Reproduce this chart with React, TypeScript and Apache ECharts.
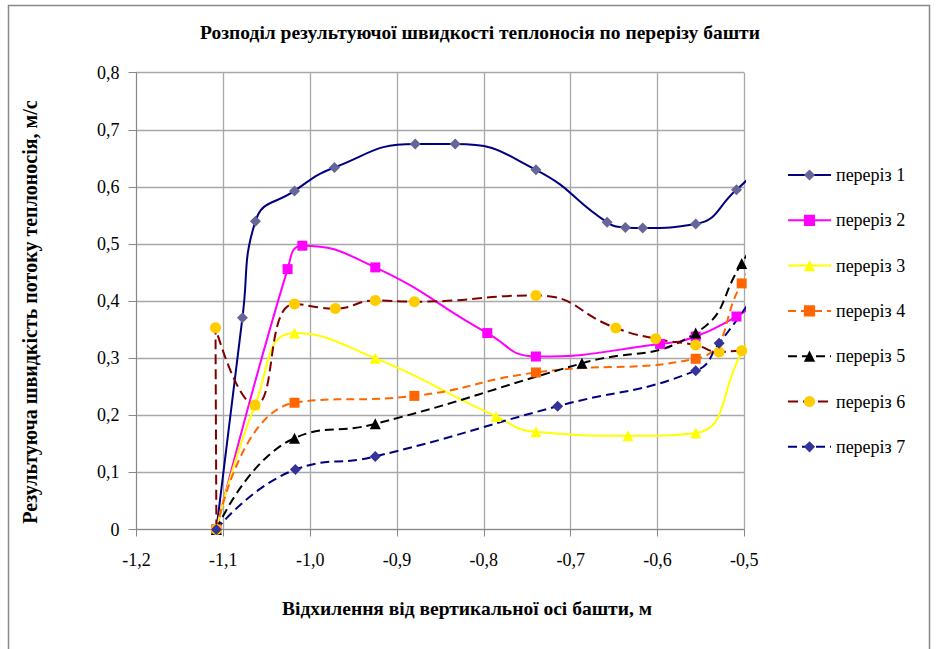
import React, { useEffect, useRef } from "react";
import * as echarts from "echarts";

const seriesNames = ["переріз 1", "переріз 2", "переріз 3", "переріз 4", "переріз 5", "переріз 6", "переріз 7"];

// [x, y, showMarker(1/0)]
const s1: number[][] = [[-1.108, 0, 1], [-1.078, 0.371, 1], [-1.063, 0.540, 1], [-1.018, 0.593, 1], [-0.972, 0.634, 1], [-0.879, 0.675, 1], [-0.833, 0.675, 1], [-0.740, 0.630, 1], [-0.658, 0.538, 1], [-0.637, 0.529, 1], [-0.617, 0.528, 1], [-0.556, 0.535, 1], [-0.509, 0.595, 1], [-0.493, 0.618, 0]];
const s2: number[][] = [[-1.108, 0, 1], [-1.026, 0.456, 1], [-1.009, 0.497, 1], [-0.925, 0.459, 1], [-0.796, 0.344, 1], [-0.740, 0.303, 1], [-0.597, 0.325, 1], [-0.556, 0.338, 1], [-0.509, 0.373, 1], [-0.493, 0.390, 0]];
const s3: number[][] = [[-1.108, 0, 1], [-1.0635, 0.218, 1], [-1.018, 0.344, 1], [-0.925, 0.300, 1], [-0.786, 0.198, 1], [-0.740, 0.171, 1], [-0.634, 0.164, 1], [-0.556, 0.169, 1], [-0.503, 0.310, 0], [-0.493, 0.338, 0]];
const s4: number[][] = [[-1.108, 0, 1], [-1.018, 0.222, 1], [-0.880, 0.234, 1], [-0.740, 0.275, 1], [-0.556, 0.299, 1], [-0.503, 0.431, 1], [-0.493, 0.464, 0]];
const s5: number[][] = [[-1.108, 0, 1], [-1.018, 0.160, 1], [-0.925, 0.185, 1], [-0.687, 0.291, 1], [-0.556, 0.344, 1], [-0.503, 0.466, 1], [-0.493, 0.493, 0]];
const s6: number[][] = [[-1.108, 0, 1], [-1.109, 0.3535, 1], [-1.0635, 0.218, 1], [-1.018, 0.395, 1], [-0.971, 0.387, 1], [-0.925, 0.401, 1], [-0.880, 0.399, 1], [-0.740, 0.410, 1], [-0.648, 0.353, 1], [-0.602, 0.334, 1], [-0.556, 0.323, 1], [-0.529, 0.311, 1], [-0.503, 0.313, 1], [-0.493, 0.310, 0]];
const s7: number[][] = [[-1.108, 0, 1], [-1.017, 0.105, 1], [-0.925, 0.128, 1], [-0.715, 0.216, 1], [-0.556, 0.278, 1], [-0.529, 0.326, 1], [-0.493, 0.400, 0]];

const allData = [s1, s2, s3, s4, s5, s6, s7];

const titleText = "Розподіл результуючої швидкості теплоносія по перерізу башти";
const xTitle = "Відхилення від вертикальної осі башти, м";
const yTitle = "Результуюча швидкість потоку теплоносія, м/с";

const FONT = "Liberation Serif";

const styles = [
  { line: "#000080", marker: "#666699", symbol: "diamond", size: 11, type: "solid" },
  { line: "#FF00FF", marker: "#FF00FF", symbol: "rect", size: 10, type: "solid" },
  { line: "#FFFF00", marker: "#FFFF00", symbol: "triangle", size: 11, type: "solid" },
  { line: "#FF6600", marker: "#FF6600", symbol: "rect", size: 10, type: [8, 5] },
  { line: "#000000", marker: "#000000", symbol: "triangle", size: 11, type: [9, 5] },
  { line: "#800000", marker: "#FFCC00", symbol: "circle", size: 11, type: [10, 5] },
  { line: "#000080", marker: "#333399", symbol: "diamond", size: 11, type: [9, 5] },
];

function fmt(v: number) {
  if (Math.abs(v) < 1e-9) return "0";
  return v.toFixed(1).replace(".", ",");
}

export default function App() {
  const ref = useRef<HTMLDivElement>(null);
  useEffect(() => {
    const chart = echarts.init(ref.current!, undefined, { renderer: "svg" });
    const series = allData.map((d, i) => {
      const st = styles[i];
      return {
        name: seriesNames[i],
        type: "line",
        smooth: 0.5,
        clip: false,
        symbol: st.symbol,
        symbolSize: st.size,
        showAllSymbol: true,
        lineStyle: { color: st.line, width: 2, type: st.type },
        itemStyle: { color: st.marker, borderWidth: 0 },
        data: d.map((p) => (p[2] ? { value: [p[0], p[1]] } : { value: [p[0], p[1]], symbol: "none" })),
      };
    });
    chart.setOption({
      animation: false,
      backgroundColor: "#ffffff",
      textStyle: { fontFamily: FONT },
      grid: { left: 136.5, right: 191.7, top: 72.7, bottom: 119.5, containLabel: false },
      xAxis: {
        type: "value",
        min: -1.2,
        max: -0.5,
        interval: 0.1,
        axisLine: { show: true, onZero: false, lineStyle: { color: "#888888", width: 1 } },
        axisTick: { show: true, inside: false, length: 7, lineStyle: { color: "#888888" } },
        axisLabel: { formatter: fmt, color: "#000", fontSize: 18, fontFamily: FONT, margin: 21 },
        splitLine: { show: true, lineStyle: { color: "#a8a8a8", width: 1.3 } },
      },
      yAxis: {
        type: "value",
        min: 0,
        max: 0.8,
        interval: 0.1,
        axisLine: { show: true, lineStyle: { color: "#888888", width: 1 } },
        axisTick: { show: true, inside: false, length: 8, lineStyle: { color: "#888888" } },
        axisLabel: { formatter: fmt, color: "#000", fontSize: 18, fontFamily: FONT, margin: 17 },
        splitLine: { show: true, lineStyle: { color: "#a8a8a8", width: 1.3 } },
      },
      legend: {
        orient: "vertical",
        left: 787,
        top: 166,
        padding: 0,
        itemWidth: 43,
        itemHeight: 14,
        itemGap: 27.3,
        textStyle: { fontSize: 18, color: "#000", fontFamily: FONT },
        data: seriesNames,
      },
      graphic: [
        {
          type: "rect",
          shape: { x: 8.5, y: 5.5, width: 921, height: 660 },
          style: { fill: "none", stroke: "#888888", lineWidth: 1.5 },
          silent: true,
        },
        {
          type: "text",
          x: 480,
          y: 32,
          style: { text: titleText, fontFamily: FONT, fontWeight: "bold", fontSize: 19.5, fill: "#000", textAlign: "center", textVerticalAlign: "middle" },
        },
        {
          type: "text",
          x: 467,
          y: 608,
          style: { text: xTitle, fontFamily: FONT, fontWeight: "bold", fontSize: 19.5, fill: "#000", textAlign: "center", textVerticalAlign: "middle" },
        },
        {
          type: "text",
          x: 30,
          y: 312,
          rotation: Math.PI / 2,
          style: { text: yTitle, fontFamily: FONT, fontWeight: "bold", fontSize: 20, fill: "#000", textAlign: "center", textVerticalAlign: "middle" },
        },
      ],
      series,
    });
    return () => chart.dispose();
  }, []);
  return <div ref={ref} style={{ position: "fixed", left: 0, top: 0, width: 936, height: 649 }} />;
}
